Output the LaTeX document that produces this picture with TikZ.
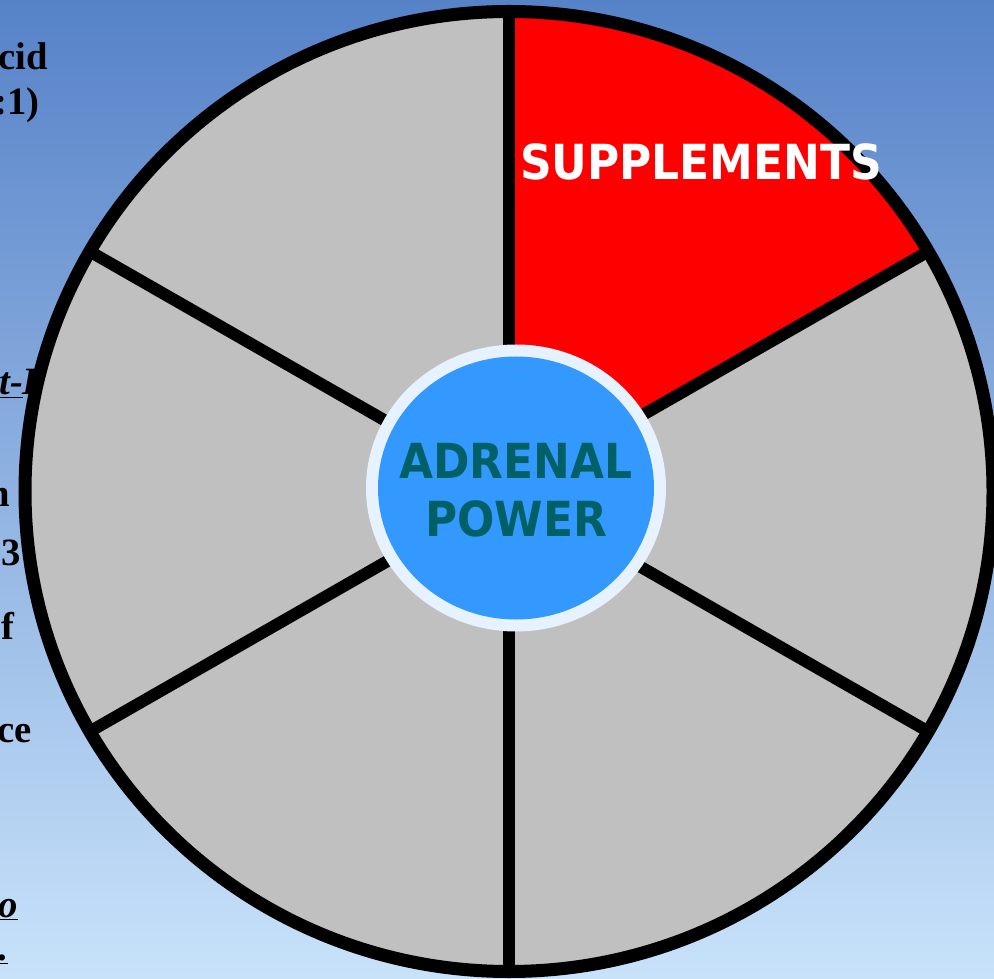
\documentclass[tikz,border=0pt]{standalone}
\usepackage{fontspec}
\setmainfont{Liberation Serif}
\newfontfamily\wheelfont{DejaVu Sans}
\definecolor{bgtop}{RGB}{86,130,200}
\definecolor{bgbot}{RGB}{200,226,250}
\definecolor{wedgegray}{RGB}{192,192,192}
\definecolor{hubblue}{RGB}{51,153,255}
\definecolor{hubring}{RGB}{230,242,255}
\definecolor{hubtext}{RGB}{0,96,102}
\newcommand{\tallcaps}[1]{\scalebox{1}[1.1]{#1}}
\begin{document}
\begin{tikzpicture}[
            x=0.02cm, y=0.02cm,
            spoke/.style={line width=6.8pt},
            sidetext/.style={font=\bfseries\fontsize{22}{26}\selectfont, inner sep=0pt},
            hubtitle/.style={font=\wheelfont\bfseries\fontsize{25}{30}\selectfont, text=hubtext, inner sep=0pt, anchor=base},
        ]
            \clip (0,0) rectangle (994,978);
            \shade[top color=bgtop, bottom color=bgbot] (0,0) rectangle (994,978);

            % text cut off at the left edge
            \node[sidetext, anchor=base east] (cid) at (48,908) {cid};
            \node[sidetext, anchor=base east] (ratio) at (40,863) {:1)};
            \node[sidetext, anchor=base west] (tdash) at (-1,583) {\underline{\textit{t-}}\textit{I}};
            \node[sidetext, anchor=base east] (endn) at (10,471) {n};
            \node[sidetext, anchor=base east] (three) at (21,413) {3};
            \node[sidetext, anchor=base east] (endf) at (15,338) {f};
            \node[sidetext, anchor=base east] (endce) at (32,236) {ce};
            \node[sidetext, anchor=base east] (endo) at (18,61) {\underline{\textit{o}}};
            \node[sidetext, anchor=base east] (dot) at (8,18) {\underline{.}};

            \coordinate (c) at (509,486.5);
            \def\rx{484}
            \def\ry{480}

            % wheel
            \fill[wedgegray] (c) ellipse [x radius=\rx, y radius=\ry];
            \fill[red] (c) -- ++(0,\ry) arc [start angle=90, end angle=30, x radius=\rx, y radius=\ry] -- cycle;
            \foreach \a in {90,30,-30,-90,-150,-210}
                \draw[spoke] (c) -- ++(\a:{\rx} and {\ry});
            \draw[line width=7.4pt] (c) ellipse [x radius=\rx, y radius=\ry];

            \node[font=\wheelfont\bfseries\fontsize{25}{30}\selectfont, text=white, inner sep=0pt, anchor=base] (supp) at (701,798) {\tallcaps{SUPPLEMENTS}};

            % hub
            \fill[hubring] (516,490) ellipse [x radius=150, y radius=143.5];
            \fill[hubblue] (516,490) ellipse [x radius=138, y radius=131.5];
            \node[hubtitle] (adrenal) at (516,499) {\tallcaps{ADRENAL}};
            \node[hubtitle] (power) at (516,441) {\tallcaps{POWER}};

        \end{tikzpicture}
\end{document}
